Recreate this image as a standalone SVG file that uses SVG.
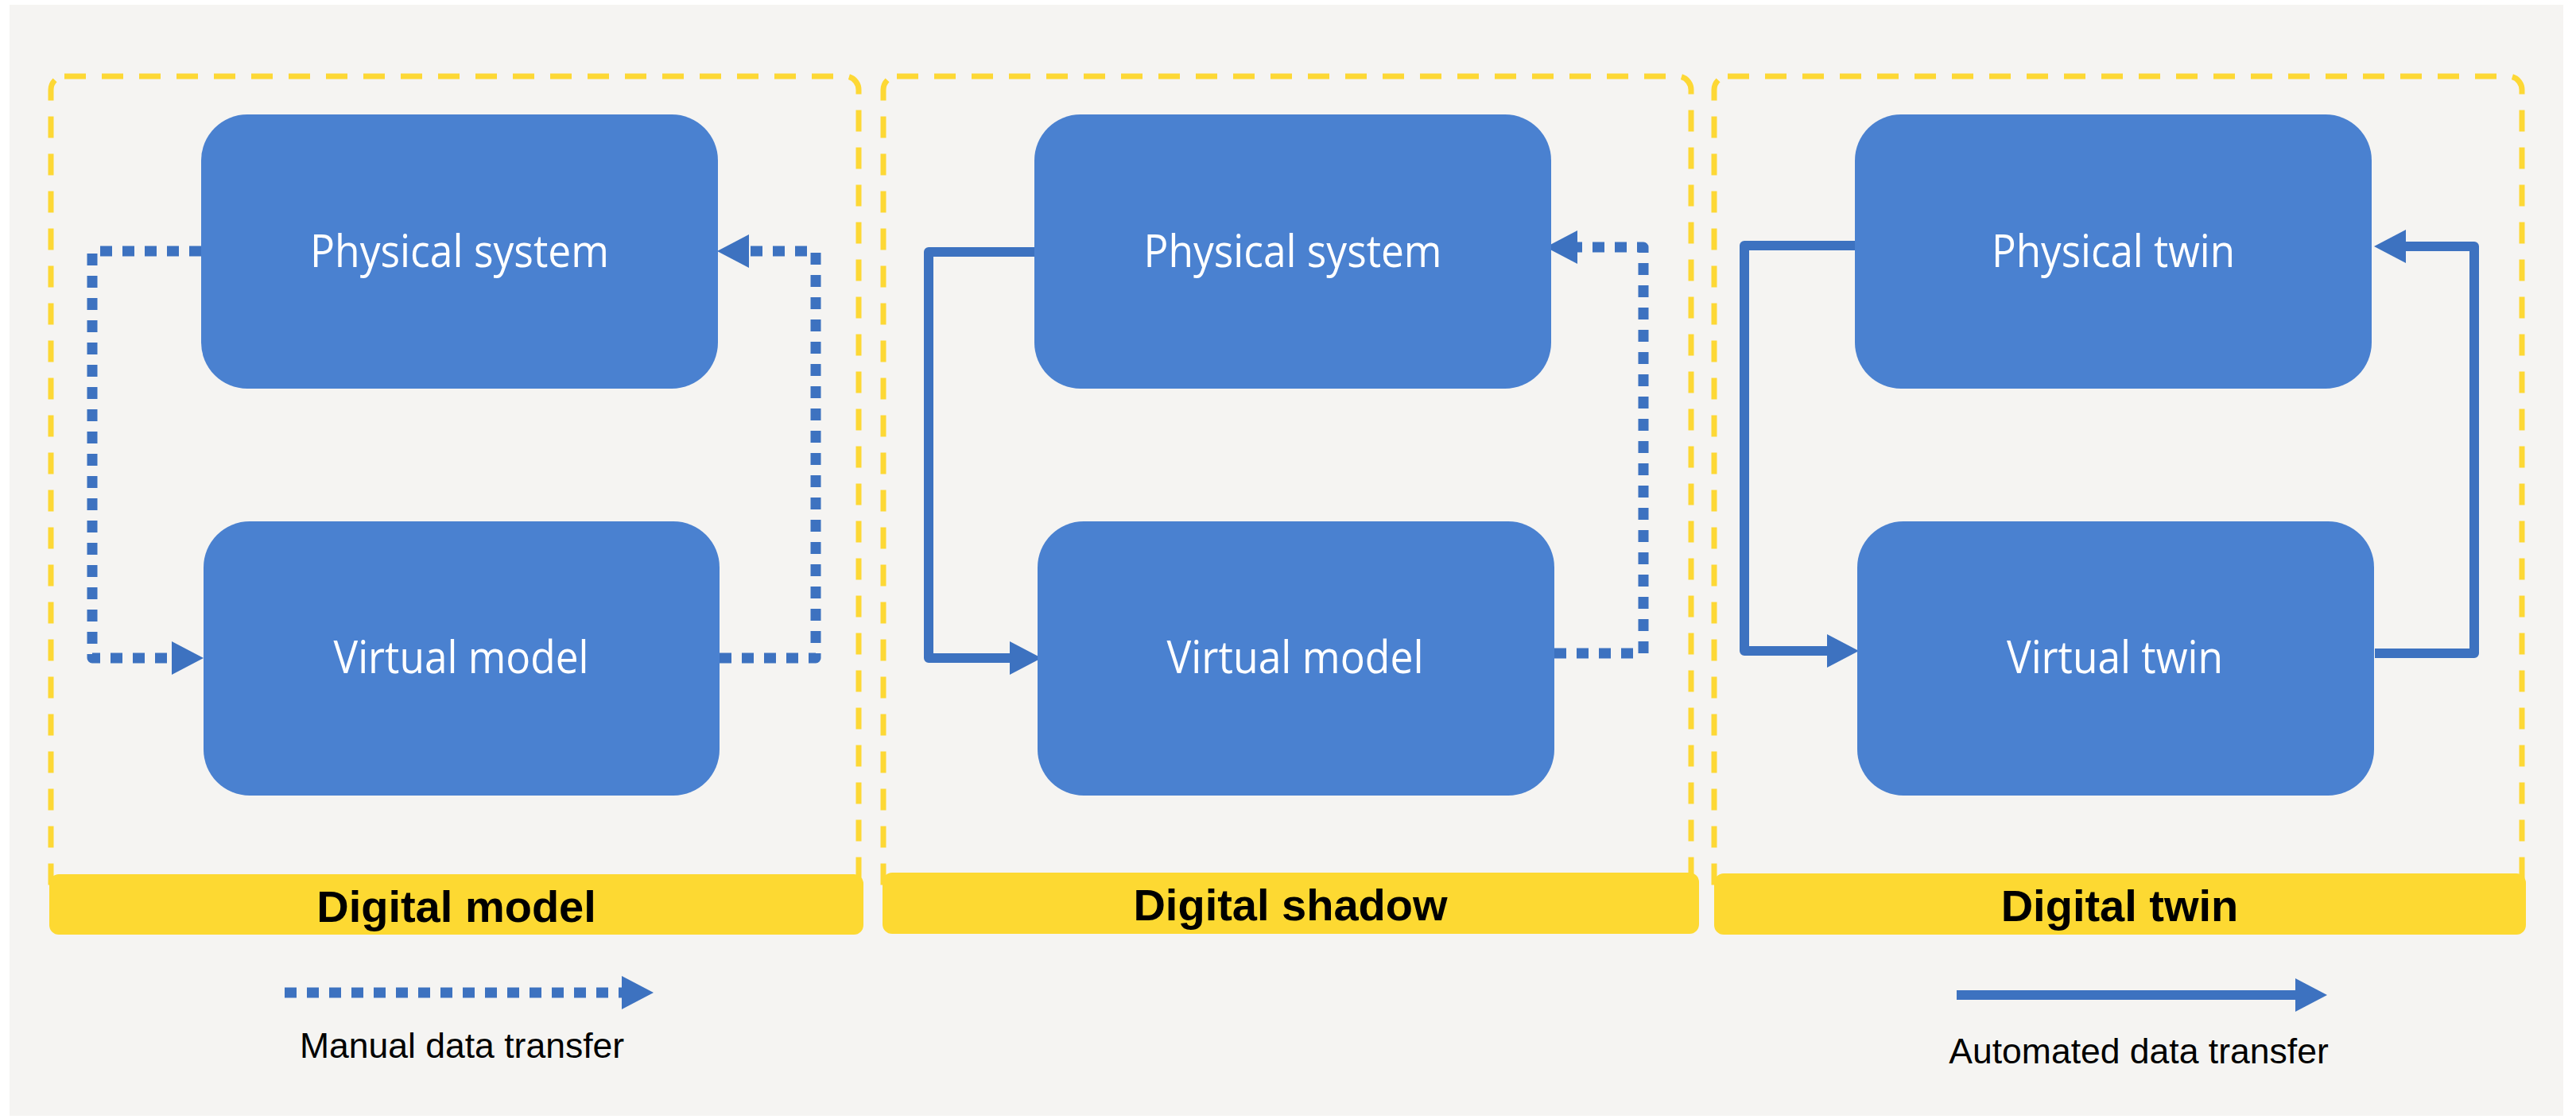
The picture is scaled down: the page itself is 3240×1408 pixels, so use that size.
<svg xmlns="http://www.w3.org/2000/svg" width="3240" height="1408" viewBox="0 0 3240 1408">
<defs>
<style>
.bg{fill:#f5f4f2}
.frame{fill:none;stroke:#fdd835;stroke-width:7;stroke-dasharray:27 20}
.bar{fill:#fdd932}
.barText{font-family:"Liberation Sans",Arial,sans-serif;font-weight:bold;font-size:56px;fill:#000;text-anchor:middle}
.box{fill:#4a81d0}
.boxText{font-family:"Open Sans","Noto Sans",sans-serif;font-size:56px;fill:#fff;text-anchor:middle}
.dot{fill:none;stroke:#3d72c0;stroke-width:13;stroke-dasharray:15 13;stroke-linejoin:round}
.solid{fill:none;stroke:#3d72c0;stroke-width:12;stroke-linejoin:round}
.legText{font-family:"Liberation Sans",Arial,sans-serif;font-size:44.5px;fill:#000;text-anchor:middle}
</style>
<marker id="arr" markerUnits="userSpaceOnUse" markerWidth="40" markerHeight="42" refX="0" refY="21" orient="auto">
<path d="M0,0 L40,21 L0,42 z" fill="#3d72c0"/>
</marker>
</defs>
<rect x="0" y="0" width="3240" height="1408" fill="#ffffff"/>
<rect class="bg" x="12" y="6" width="3212" height="1398"/>

<g id="panel-digital-model">
<rect class="frame" x="64" y="96" width="1016" height="1040" rx="17"/>
<rect class="bar" x="62" y="1100" width="1024" height="76" rx="12"/>
<text class="barText" x="574" y="1160">Digital model</text>
</g>
<g id="panel-digital-shadow">
<rect class="frame" x="1111" y="96" width="1016" height="1040" rx="17"/>
<rect class="bar" x="1110" y="1098" width="1027" height="77" rx="12"/>
<text class="barText" x="1623" y="1158">Digital shadow</text>
</g>
<g id="panel-digital-twin">
<rect class="frame" x="2156" y="96" width="1016" height="1040" rx="17"/>
<rect class="bar" x="2156" y="1099" width="1021" height="77" rx="12"/>
<text class="barText" x="2666" y="1159">Digital twin</text>
</g>

<g id="connectors">
<path class="dot" d="M253,316 H116 V828 H216" marker-end="url(#arr)"/>
<path class="dot" d="M905,828 H1026 V316 H942" marker-end="url(#arr)"/>
<path class="solid" d="M1301,317 H1168 V828 H1270" marker-end="url(#arr)"/>
<path class="dot" d="M1955,822 H2067 V311 H1984" marker-end="url(#arr)"/>
<path class="solid" d="M2333,309 H2194 V819 H2298" marker-end="url(#arr)"/>
<path class="solid" d="M2987,822 H3112 V310 H3026" marker-end="url(#arr)"/>
<path class="dot" d="M358,1249 H782" stroke-width="14" stroke-dasharray="13.5 13.2" marker-end="url(#arr)"/>
<path class="solid" d="M2461,1252 H2887" stroke-width="14" marker-end="url(#arr)"/>
</g>

<g id="node-physical-system-1">
<rect class="box" x="253" y="144" width="650" height="345" rx="58"/>
<text class="boxText" x="578" y="336" textLength="376" lengthAdjust="spacingAndGlyphs">Physical system</text>
</g>
<g id="node-virtual-model-1">
<rect class="box" x="256" y="656" width="649" height="345" rx="58"/>
<text class="boxText" x="580" y="847" textLength="321" lengthAdjust="spacingAndGlyphs">Virtual model</text>
</g>
<g id="node-physical-system-2">
<rect class="box" x="1301" y="144" width="650" height="345" rx="58"/>
<text class="boxText" x="1626" y="336" textLength="375" lengthAdjust="spacingAndGlyphs">Physical system</text>
</g>
<g id="node-virtual-model-2">
<rect class="box" x="1305" y="656" width="650" height="345" rx="58"/>
<text class="boxText" x="1629" y="847" textLength="323" lengthAdjust="spacingAndGlyphs">Virtual model</text>
</g>
<g id="node-physical-twin">
<rect class="box" x="2333" y="144" width="650" height="345" rx="58"/>
<text class="boxText" x="2658" y="336" textLength="306" lengthAdjust="spacingAndGlyphs">Physical twin</text>
</g>
<g id="node-virtual-twin">
<rect class="box" x="2336" y="656" width="650" height="345" rx="58"/>
<text class="boxText" x="2660" y="847" textLength="272" lengthAdjust="spacingAndGlyphs">Virtual twin</text>
</g>

<g id="legend">
<text class="legText" x="581" y="1331">Manual data transfer</text>
<text class="legText" x="2690" y="1338">Automated data transfer</text>
</g>
</svg>
